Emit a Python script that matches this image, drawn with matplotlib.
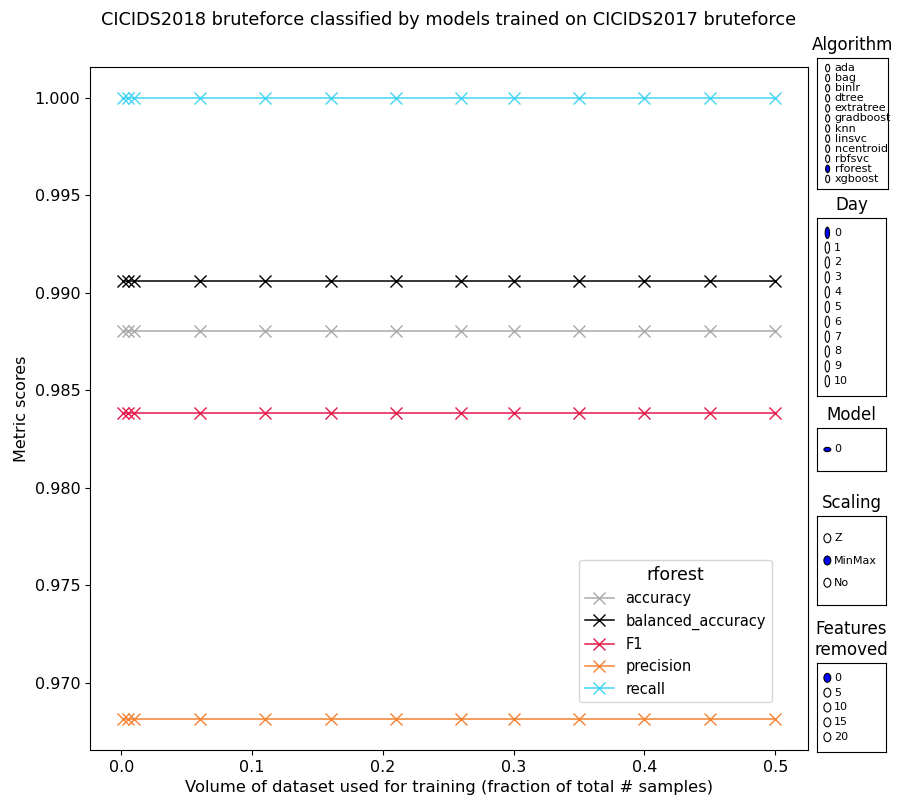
import matplotlib
matplotlib.use("Agg")
import matplotlib.pyplot as plt
import matplotlib.patches as mpatches
import numpy as np

# training volume fractions
volumes = [0.001, 0.005, 0.01, 0.06, 0.11, 0.16, 0.21, 0.26, 0.3, 0.35, 0.4, 0.45, 0.5]

# metric scores for rforest (same at every volume)
metric_names = ["accuracy", "balanced_accuracy", "F1", "precision", "recall"]
accuracy = [0.98806] * len(volumes)
balanced_accuracy = [0.99061] * len(volumes)
f1 = [0.98383] * len(volumes)
precision = [0.96813] * len(volumes)
recall = [1.0] * len(volumes)
metric_colors = ["#a9a9a9", "#000000", "#e6194b", "#f58231", "#42d4f4"]

# selector options
algorithms = ["ada", "bag", "binlr", "dtree", "extratree", "gradboost", "knn",
              "linsvc", "ncentroid", "rbfsvc", "rforest", "xgboost"]
days = [str(d) for d in range(11)]
models = ["0"]
scalings = ["Z", "MinMax", "No"]
features_removed = ["0", "5", "10", "15", "20"]


fig = plt.figure(figsize=(9.04, 7.99), dpi=100)
ax = fig.add_axes([0.0996, 0.0613, 0.794, 0.855])

scores = [accuracy, balanced_accuracy, f1, precision, recall]
for name, vals, col in zip(metric_names, scores, metric_colors):
    ax.plot(volumes, vals, color=col, marker="x", markersize=9, linewidth=1.1, label=name)

ax.set_title("CICIDS2018 bruteforce classified by models trained on CICIDS2017 bruteforce",
             fontsize=12.75, pad=30)
ax.set_xlabel("Volume of dataset used for training (fraction of total # samples)", fontsize=11.75)
ax.set_ylabel("Metric scores", fontsize=11.5)
ax.tick_params(labelsize=11.5)
ax.yaxis.set_major_formatter(matplotlib.ticker.FormatStrFormatter("%.3f"))
leg = ax.legend(title="rforest", loc="lower right", bbox_to_anchor=(0.96, 0.059),
                fontsize=10.5, title_fontsize=12.5)


# radio-button style selector boxes (old widget look, ellipses in axes coords)
def selector(rect, title, labels, active, fsize=8):
    sax = fig.add_axes(rect)
    sax.set_xticks([])
    sax.set_yticks([])
    sax.set_xlim(0, 1)
    sax.set_ylim(0, 1)
    sax.set_title(title, fontsize=12)
    dy = 1.0 / (len(labels) + 1)
    ys = np.linspace(1 - dy, dy, len(labels))
    rad = min(dy / 2 - 0.01, 0.05)
    for i, (lab, y) in enumerate(zip(labels, ys)):
        fc = "blue" if i == active else "white"
        c = mpatches.Circle((0.15, y), radius=rad, facecolor=fc, edgecolor="black",
                            linewidth=0.8, transform=sax.transAxes)
        sax.add_patch(c)
        sax.text(0.25, y, lab, ha="left", va="center", fontsize=fsize, transform=sax.transAxes)
    return sax


def frac(x0, y0, x1, y1):
    return [x0 / 904, (799 - y1) / 799, (x1 - x0) / 904, (y1 - y0) / 799]


selector(frac(817, 58, 888, 189), "Algorithm", algorithms, algorithms.index("rforest"))
selector(frac(817, 218, 886, 396), "Day", days, 0)
selector(frac(817, 428, 886, 471), "Model", models, 0)
selector(frac(817, 516, 886, 605), "Scaling", scalings, 1)
selector(frac(817, 663, 886, 752), "Features\nremoved", features_removed, 0)

plt.savefig("out.png", dpi=100)
